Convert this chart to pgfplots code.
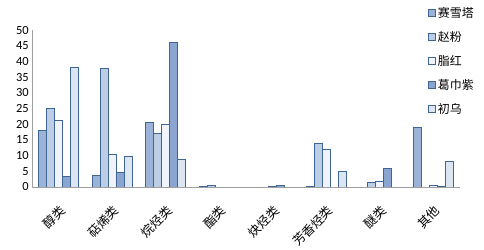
\documentclass[border=0pt]{standalone}
\usepackage{pgfplots}
\pgfplotsset{compat=1.18}
\usepackage{fontspec}
\setmainfont{Carlito}
\newfontfamily\cjk{Noto Sans CJK SC}
\definecolor{edge}{HTML}{3F6597}
\definecolor{cA}{HTML}{9AB3D7}
\definecolor{cB}{HTML}{BBCEE6}
\definecolor{cC}{HTML}{F0F4FA}
\definecolor{cD}{HTML}{8AA6D0}
\definecolor{cE}{HTML}{DCE6F2}
\definecolor{axgray}{HTML}{A0A0A0}
\begin{document}
\begin{tikzpicture}
\useasboundingbox (0,0) rectangle (484bp,250bp);
\begin{axis}[
  at={(32bp,63bp)}, anchor=south west,
  scale only axis, width=428bp, height=157bp,
  ybar=0pt, bar width=8bp,
  xmin=-0.5, xmax=7.5, ymin=0, ymax=50,
  xtick={0,...,7},
  xticklabels={醇类,萜烯类,烷烃类,酯类,炔烃类,芳香烃类,醚类,其他},
  xticklabel style={font=\cjk\fontsize{12.5}{14}\selectfont, rotate=45, anchor=north east, inner sep=0pt, xshift=-12bp, yshift=-12bp},
  ytick={0,5,...,50},
  yticklabel style={font=\fontsize{12.5}{14}\selectfont, inner sep=1pt, xshift=-2bp},
  /pgf/number format/assume math mode=true,
  major tick length=0pt,
  axis x line*=bottom, axis y line*=left,
  axis line style={axgray, line width=0.8pt},
  every outer x axis line/.append style={-}, every outer y axis line/.append style={-},
  separate axis lines,
  legend style={at={(0.925,1.16)}, anchor=north west, draw=none, fill=none,
    font=\cjk\fontsize{12}{14}\selectfont, row sep=8.5bp, inner sep=0pt},
  legend cell align=left,
  legend image code/.code={\draw[#1, line width=0.8pt] (0bp,-3.5bp) rectangle (7bp,3.5bp);},
  every axis plot/.append style={draw=edge, line width=1pt},
]
\addplot[fill=cA] coordinates {(0,18.1) (1,3.6) (2,20.6) (3,0.2) (4,0) (5,0.2) (6,0) (7,18.9)};
\addplot[fill=cB] coordinates {(0,24.9) (1,37.8) (2,17.0) (3,0.6) (4,0) (5,13.9) (6,1.3) (7,0)};
\addplot[fill=cC] coordinates {(0,21.3) (1,10.4) (2,20.0) (3,0) (4,0.2) (5,12.0) (6,1.6) (7,0.6)};
\addplot[fill=cD] coordinates {(0,3.2) (1,4.5) (2,46.0) (3,0) (4,0.4) (5,0) (6,5.8) (7,0.1)};
\addplot[fill=cE] coordinates {(0,38.0) (1,9.6) (2,8.9) (3,0) (4,0) (5,4.8) (6,0) (7,8.0)};
\legend{赛雪塔,赵粉,脂红,葛巾紫,初乌}
\end{axis}
\end{tikzpicture}
\end{document}
